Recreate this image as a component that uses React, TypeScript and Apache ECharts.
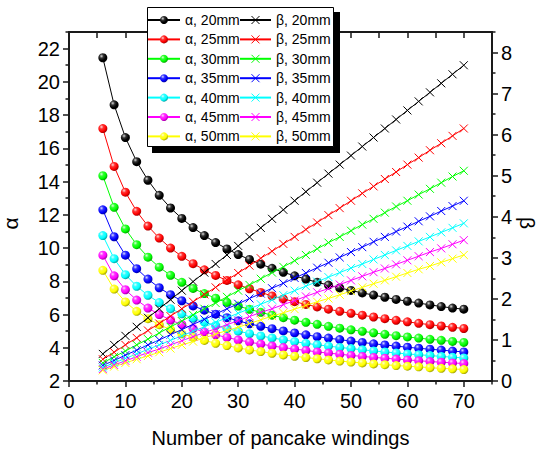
import React, { useEffect, useRef } from "react";
import * as echarts from "echarts";

const windings = [6, 8, 10, 12, 14, 16, 18, 20, 22, 24, 26, 28, 30, 32, 34, 36, 38, 40, 42, 44, 46, 48, 50, 52, 54, 56, 58, 60, 62, 64, 66, 68, 70];

const diameters = ["20mm", "25mm", "30mm", "35mm", "40mm", "45mm", "50mm"];

const alpha20 = [21.45, 18.62, 16.65, 15.2, 14.08, 13.17, 12.41, 11.78, 11.23, 10.75, 10.33, 9.95, 9.61, 9.31, 9.03, 8.78, 8.54, 8.33, 8.13, 7.94, 7.77, 7.6, 7.45, 7.3, 7.17, 7.04, 6.91, 6.8, 6.69, 6.58, 6.48, 6.39, 6.32];
const alpha25 = [17.19, 14.91, 13.36, 12.21, 11.32, 10.6, 10.0, 9.5, 9.06, 8.69, 8.35, 8.05, 7.79, 7.55, 7.33, 7.12, 6.94, 6.77, 6.61, 6.46, 6.32, 6.19, 6.07, 5.96, 5.85, 5.75, 5.65, 5.56, 5.47, 5.39, 5.31, 5.23, 5.16];
const alpha30 = [14.35, 12.45, 11.15, 10.2, 9.45, 8.85, 8.36, 7.94, 7.57, 7.26, 6.98, 6.73, 6.51, 6.31, 6.13, 5.96, 5.81, 5.66, 5.53, 5.41, 5.29, 5.18, 5.08, 4.99, 4.9, 4.81, 4.73, 4.65, 4.58, 4.51, 4.45, 4.38, 4.32];
const alpha35 = [12.3, 10.68, 9.57, 8.76, 8.13, 7.61, 7.19, 6.83, 6.52, 6.26, 6.02, 5.81, 5.62, 5.44, 5.29, 5.15, 5.01, 4.89, 4.78, 4.67, 4.58, 4.49, 4.4, 4.32, 4.24, 4.17, 4.1, 4.03, 3.97, 3.91, 3.86, 3.8, 3.75];
const alpha40 = [10.75, 9.36, 8.4, 7.7, 7.16, 6.72, 6.35, 6.04, 5.78, 5.55, 5.34, 5.16, 5.0, 4.85, 4.71, 4.59, 4.48, 4.37, 4.27, 4.18, 4.1, 4.02, 3.95, 3.88, 3.81, 3.75, 3.69, 3.63, 3.58, 3.53, 3.48, 3.43, 3.39];
const alpha45 = [9.57, 8.33, 7.49, 6.87, 6.39, 6.0, 5.67, 5.4, 5.16, 4.96, 4.78, 4.62, 4.47, 4.34, 4.22, 4.11, 4.01, 3.92, 3.84, 3.75, 3.68, 3.61, 3.54, 3.48, 3.42, 3.37, 3.32, 3.27, 3.22, 3.17, 3.13, 3.09, 3.05];
const alpha50 = [8.66, 7.53, 6.76, 6.19, 5.75, 5.39, 5.09, 4.84, 4.63, 4.44, 4.27, 4.13, 3.99, 3.87, 3.77, 3.67, 3.57, 3.49, 3.41, 3.34, 3.27, 3.2, 3.14, 3.09, 3.03, 2.98, 2.93, 2.89, 2.85, 2.8, 2.76, 2.73, 2.69];

const beta20 = [0.66, 0.88, 1.1, 1.32, 1.54, 1.76, 1.98, 2.2, 2.42, 2.64, 2.85, 3.07, 3.29, 3.51, 3.73, 3.95, 4.17, 4.39, 4.61, 4.83, 5.05, 5.27, 5.49, 5.71, 5.93, 6.15, 6.37, 6.59, 6.81, 7.03, 7.25, 7.47, 7.69];
const beta25 = [0.53, 0.7, 0.88, 1.05, 1.23, 1.4, 1.58, 1.76, 1.93, 2.11, 2.28, 2.46, 2.63, 2.81, 2.99, 3.16, 3.34, 3.51, 3.69, 3.86, 4.04, 4.21, 4.39, 4.57, 4.74, 4.92, 5.09, 5.27, 5.44, 5.62, 5.79, 5.97, 6.15];
const beta30 = [0.44, 0.59, 0.73, 0.88, 1.02, 1.17, 1.32, 1.46, 1.61, 1.76, 1.9, 2.05, 2.2, 2.34, 2.49, 2.64, 2.78, 2.93, 3.07, 3.22, 3.37, 3.51, 3.66, 3.81, 3.95, 4.1, 4.25, 4.39, 4.54, 4.68, 4.83, 4.98, 5.12];
const beta35 = [0.38, 0.5, 0.63, 0.75, 0.88, 1.0, 1.13, 1.25, 1.38, 1.5, 1.63, 1.76, 1.88, 2.01, 2.13, 2.26, 2.38, 2.51, 2.63, 2.76, 2.88, 3.01, 3.14, 3.26, 3.39, 3.51, 3.64, 3.76, 3.89, 4.01, 4.14, 4.26, 4.39];
const beta40 = [0.33, 0.44, 0.55, 0.66, 0.77, 0.88, 0.99, 1.1, 1.21, 1.32, 1.43, 1.54, 1.65, 1.76, 1.87, 1.98, 2.09, 2.2, 2.31, 2.42, 2.53, 2.64, 2.75, 2.85, 2.96, 3.07, 3.18, 3.29, 3.4, 3.51, 3.62, 3.73, 3.84];
const beta45 = [0.29, 0.39, 0.49, 0.59, 0.69, 0.78, 0.88, 0.98, 1.08, 1.18, 1.27, 1.37, 1.47, 1.57, 1.67, 1.76, 1.86, 1.96, 2.06, 2.16, 2.25, 2.35, 2.45, 2.55, 2.65, 2.74, 2.84, 2.94, 3.04, 3.14, 3.23, 3.33, 3.43];
const beta50 = [0.26, 0.35, 0.44, 0.53, 0.61, 0.7, 0.79, 0.88, 0.96, 1.05, 1.14, 1.23, 1.31, 1.4, 1.49, 1.58, 1.66, 1.75, 1.84, 1.93, 2.01, 2.1, 2.19, 2.28, 2.37, 2.45, 2.54, 2.63, 2.72, 2.8, 2.89, 2.98, 3.07];

const alphaSets = [alpha20, alpha25, alpha30, alpha35, alpha40, alpha45, alpha50];
const betaSets = [beta20, beta25, beta30, beta35, beta40, beta45, beta50];

const xTicks = [0, 10, 20, 30, 40, 50, 60, 70];
const xMinorTicks = [5, 15, 25, 35, 45, 55, 65, 75];
const xTopTicks = [5, 10, 15, 20, 25, 30, 35, 40, 45, 50, 55, 60, 65, 70];
const alphaTicks = [2, 4, 6, 8, 10, 12, 14, 16, 18, 20, 22];
const alphaMinorTicks = [3, 5, 7, 9, 11, 13, 15, 17, 19, 21, 23];
const betaTicks = [0, 1, 2, 3, 4, 5, 6, 7, 8];
const betaMinorTicks = [0.5, 1.5, 2.5, 3.5, 4.5, 5.5, 6.5, 7.5, 8.5];

const COLORS = ["#000000", "#ff0000", "#00ff00", "#0000ff", "#00ffff", "#ff00ff", "#ffff00"];
const FONT = 'Arial, "Liberation Sans", sans-serif';
const AX = "#1a1a1a";

function mix(hex: string, target: number, t: number): string {
  const r = parseInt(hex.slice(1, 3), 16);
  const g = parseInt(hex.slice(3, 5), 16);
  const b = parseInt(hex.slice(5, 7), 16);
  const f = (c: number) => Math.round(c + (target - c) * t).toString(16).padStart(2, "0");
  return "#" + f(r) + f(g) + f(b);
}

function ball(c: string) {
  return {
    type: "radial",
    x: 0.35,
    y: 0.32,
    r: 0.75,
    colorStops: [
      { offset: 0, color: mix(c, 255, 0.85) },
      { offset: 0.3, color: mix(c, 255, 0.2) },
      { offset: 0.65, color: c },
      { offset: 1, color: mix(c, 0, 0.45) },
    ],
  };
}

const CROSS = "path://M0,0L10,10M10,0L0,10";

export default function App() {
  const ref = useRef<HTMLDivElement>(null);
  useEffect(() => {
    document.body.style.margin = "0";
    if (!ref.current) return;
    const chart = echarts.init(ref.current, undefined, { renderer: "svg" });

    const alphaNames = diameters.map((d) => "α, " + d);
    const betaNames = diameters.map((d) => "β, " + d);

    const series: any[] = [];
    alphaSets.forEach((arr, i) => {
      series.push({
        name: alphaNames[i],
        type: "line",
        xAxisIndex: 0,
        yAxisIndex: 0,
        data: windings.map((n, j) => [n, arr[j]]),
        symbol: "circle",
        symbolSize: 9,
        itemStyle: { color: ball(COLORS[i]), borderWidth: 0 },
        lineStyle: { color: COLORS[i], width: 1 },
        z: 2,
      });
    });
    betaSets.forEach((arr, i) => {
      series.push({
        name: betaNames[i],
        type: "line",
        xAxisIndex: 0,
        yAxisIndex: 2,
        data: windings.map((n, j) => [n, arr[j]]),
        symbol: CROSS,
        symbolSize: 8,
        itemStyle: { color: COLORS[i], borderColor: COLORS[i], borderWidth: 1 },
        lineStyle: { color: COLORS[i], width: 1 },
        z: 3,
      });
    });

    const tickLabel = { fontSize: 20, color: "#000", fontFamily: FONT };
    const legendBase = {
      orient: "vertical",
      top: 13,
      itemHeight: 10,
      itemGap: 5.4,
      padding: 0,
      z: 10,
      textStyle: { fontSize: 14, fontFamily: FONT, color: "#000", lineHeight: 14 },
    };

    chart.setOption({
      animation: false,
      backgroundColor: "#fff",
      grid: { left: 69, right: 49, top: 32, bottom: 71, containLabel: false, outerBoundsMode: "none" },
      legend: [
        {
          ...legendBase,
          left: 147,
          itemWidth: 32,
          data: alphaNames.map((n) => ({ name: n, itemStyle: { borderWidth: 0 } })),
        },
        {
          ...legendBase,
          left: 239,
          itemWidth: 31,
          data: betaNames.map((n, i) => ({ name: n, itemStyle: { borderWidth: 1, borderColor: COLORS[i] } })),
        },
      ],
      graphic: [
        { type: "rect", z: 8, shape: { x: 152, y: 12, width: 188, height: 141 }, style: { fill: "#000" } },
        { type: "rect", z: 9, shape: { x: 147.5, y: 7.5, width: 186, height: 139 }, style: { fill: "#fff", stroke: "#000", lineWidth: 1 } },
        {
          type: "text",
          z: 9,
          x: 527,
          y: 223,
          rotation: -Math.PI / 2,
          style: { text: "β", fontSize: 21, fontFamily: FONT, fill: "#000", align: "center", verticalAlign: "middle" },
        },
      ],
      xAxis: [
        {
          type: "value",
          position: "bottom",
          min: 0,
          max: 75,
          axisLine: { show: true, onZero: false, lineStyle: { color: AX, width: 2 } },
          axisTick: { show: true, customValues: xTicks, length: 6, lineStyle: { color: AX, width: 1.5 } },
          axisLabel: { customValues: xTicks, margin: 10, ...tickLabel },
          splitLine: { show: false },
          name: "Number of pancake windings",
          nameLocation: "middle",
          nameGap: 47,
          nameTextStyle: { fontSize: 20, color: "#000", fontFamily: FONT },
        },
        {
          type: "value",
          position: "bottom",
          min: 0,
          max: 75,
          axisLine: { show: false, onZero: false },
          axisTick: { show: true, customValues: xMinorTicks, length: 3.5, lineStyle: { color: AX, width: 1.5 } },
          axisLabel: { show: false },
          splitLine: { show: false },
        },
        {
          type: "value",
          position: "top",
          min: 0,
          max: 75,
          axisLine: { show: true, onZero: false, lineStyle: { color: AX, width: 2 } },
          axisTick: { show: true, inside: true, customValues: xTopTicks, length: 6, lineStyle: { color: AX, width: 1.5 } },
          axisLabel: { show: false },
          splitLine: { show: false },
        },
      ],
      yAxis: [
        {
          type: "value",
          position: "left",
          min: 2,
          max: 23,
          axisLine: { show: true, onZero: false, lineStyle: { color: AX, width: 2 } },
          axisTick: { show: true, customValues: alphaTicks, length: 6, lineStyle: { color: AX, width: 1.5 } },
          axisLabel: { customValues: alphaTicks, margin: 9, ...tickLabel },
          splitLine: { show: false },
          name: "α",
          nameLocation: "middle",
          nameGap: 48,
          nameTextStyle: { fontSize: 21, color: "#000", fontFamily: FONT, padding: [0, 34, 0, 0] },
        },
        {
          type: "value",
          position: "left",
          min: 2,
          max: 23,
          axisLine: { show: false, onZero: false },
          axisTick: { show: true, customValues: alphaMinorTicks, length: 3.5, lineStyle: { color: AX, width: 1.5 } },
          axisLabel: { show: false },
          splitLine: { show: false },
        },
        {
          type: "value",
          position: "right",
          min: 0,
          max: 8.5,
          axisLine: { show: true, onZero: false, lineStyle: { color: AX, width: 2 } },
          axisTick: { show: true, customValues: betaTicks, length: 6, lineStyle: { color: AX, width: 1.5 } },
          axisLabel: { customValues: betaTicks, margin: 9, ...tickLabel },
          splitLine: { show: false },
        },
        {
          type: "value",
          position: "right",
          min: 0,
          max: 8.5,
          axisLine: { show: false, onZero: false },
          axisTick: { show: true, customValues: betaMinorTicks, length: 3.5, lineStyle: { color: AX, width: 1.5 } },
          axisLabel: { show: false },
          splitLine: { show: false },
        },
      ],
      series,
    });
    return () => chart.dispose();
  }, []);
  return <div ref={ref} style={{ position: "absolute", left: 0, top: 0, width: 541, height: 452 }} />;
}
